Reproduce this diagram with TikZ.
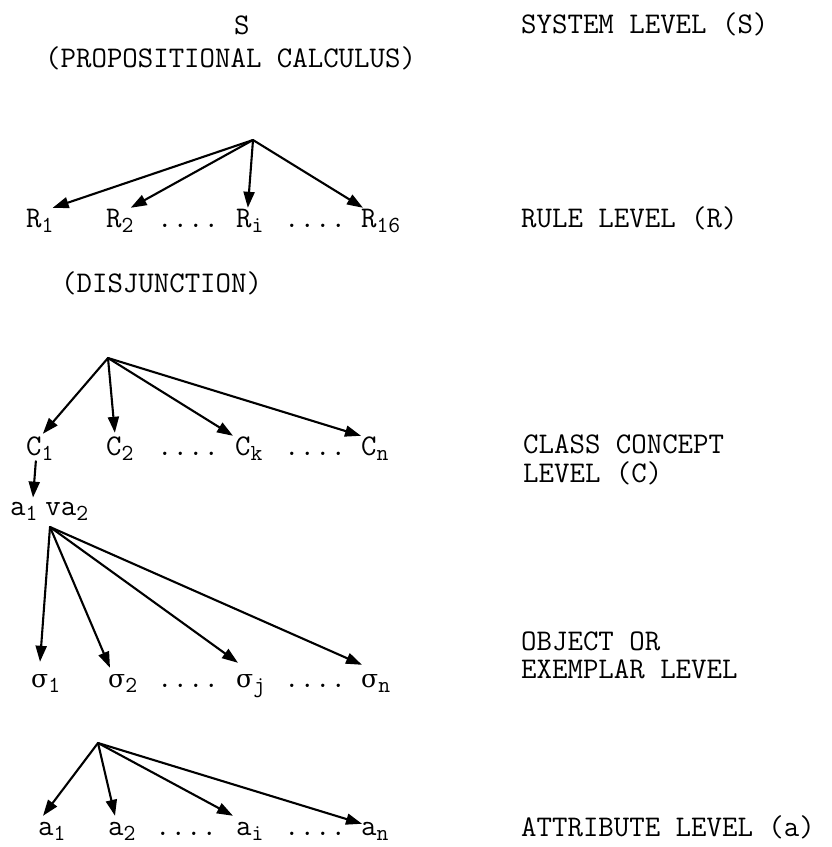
\documentclass[tikz,border=0pt]{standalone}
\usepackage{fontspec}
\newfontfamily\gk{DejaVu Serif}
\usetikzlibrary{arrows.meta}
\newcommand\lsub[1]{\raisebox{-5pt}{\fontsize{23}{23}\selectfont #1}}
\newcommand\sig{{\gk\fontsize{25}{25}\selectfont σ}}
\begin{document}
\begin{tikzpicture}[x=1pt,y=-1pt,
  lbl/.style={inner sep=0pt, anchor=base west, font=\ttfamily\fontsize{30}{30}\selectfont},
  row/.style={lbl, text height=19pt, text depth=4pt},
  arr/.style={line width=2.1pt, line cap=round, -{Triangle[length=16pt,width=11pt]}}]
\fill[white] (0,0) rectangle (831,847);
\useasboundingbox (0,0) rectangle (831,847);

% system level
\node[lbl] (s) at (234,34) {S};
\node[lbl] (prop) at (45,67) {(PROPOSITIONAL CALCULUS)};
\node[lbl] (sys) at (521,33) {SYSTEM LEVEL (S)};

% rule level
\coordinate (ra) at (253,140);
\node[row] (r1) at (26,227) {R\lsub{1}};
\node[row] (r2) at (106,227) {R\lsub{2}};
\node[lbl] (rd1) at (157,227) {....};
\node[row] (ri) at (236,227) {R\lsub{i}};
\node[lbl] (rd2) at (284,227) {....};
\node[row] (r16) at (361,227) {R\lsub{16}};
\node[lbl] (rule) at (521,227) {RULE LEVEL (R)};
\node[lbl] (disj) at (61,292) {(DISJUNCTION)};
\draw[arr] (ra) -- ([xshift=-1pt]r1.north east);
\draw[arr] (ra) -- ([xshift=-3pt]r2.north east);
\draw[arr] (ra) -- ([xshift=-2pt]ri.north);
\draw[arr] (ra) -- ([xshift=2pt]r16.north west);

% class concept level
\coordinate (ca) at (108,358);
\node[row] (c1) at (26,455) {C\lsub{1}};
\node[row] (c2) at (106,455) {C\lsub{2}};
\node[lbl] (cd1) at (157,455) {....};
\node[row] (ck) at (235,455) {C\lsub{k}};
\node[lbl] (cd2) at (284,455) {....};
\node[row] (cn) at (361,455) {C\lsub{n}};
\node[lbl] (cl1) at (523,453) {CLASS CONCEPT};
\node[lbl] (cl2) at (523,482) {LEVEL (C)};
\draw[arr] (ca) -- ([xshift=3pt,yshift=2pt]c1.north);
\draw[arr] (ca) -- ([xshift=-5pt,yshift=3pt]c2.north);
\draw[arr] (ca) -- ([xshift=-2pt]ck.north west);
\draw[arr] (ca) -- (cn.north west);

% disjunction a1 v a2
\node[lbl] (av) at (10,515) {a\lsub{1}\hspace{8pt}va\lsub{2}};
\draw[arr] ([xshift=-4pt,yshift=-2pt]c1.south) -- ([xshift=23pt,yshift=4pt]av.north west);

% object level
\coordinate (sa) at (50,527);
\node[row] (s1) at (31,687) {\sig\lsub{1}};
\node[row] (s2) at (108,687) {\sig\lsub{2}};
\node[lbl] (od1) at (157,687) {....};
\node[row] (sj) at (236,687) {\sig\lsub{j}};
\node[lbl] (od2) at (284,687) {....};
\node[row] (sn) at (361,687) {\sig\lsub{n}};
\node[lbl] (ob1) at (521,650) {OBJECT OR};
\node[lbl] (ob2) at (521,678) {EXEMPLAR LEVEL};
\draw[arr] (sa) -- ([xshift=9pt,yshift=6pt]s1.north west);
\draw[arr] (sa) -- ([xshift=2pt]s2.north west);
\draw[arr] (sa) -- ([xshift=2pt,yshift=5pt]sj.north west);
\draw[arr] (sa) -- ([xshift=1pt,yshift=3pt]sn.north west);

% attribute level
\coordinate (aa) at (98,743);
\node[row] (a1) at (38,835) {a\lsub{1}};
\node[row] (a2) at (108,835) {a\lsub{2}};
\node[lbl] (ad1) at (155,835) {....};
\node[row] (ai) at (236,835) {a\lsub{i}};
\node[lbl] (ad2) at (284,835) {....};
\node[row] (an) at (361,835) {a\lsub{n}};
\node[lbl] (attr) at (521,836) {ATTRIBUTE LEVEL (a)};
\draw[arr] (aa) -- ([xshift=5pt]a1.north west);
\draw[arr] (aa) -- ([xshift=7pt]a2.north west);
\draw[arr] (aa) -- ([xshift=-3pt]ai.north west);
\draw[arr] (aa) -- ([xshift=1pt,yshift=-8pt]an.north west);
\end{tikzpicture}
\end{document}
